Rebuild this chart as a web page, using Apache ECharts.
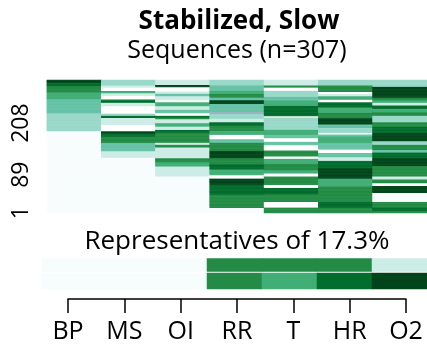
<!DOCTYPE html>
<html>
<head>
<meta charset="utf-8">
<script src="https://cdn.jsdelivr.net/npm/echarts@6/dist/echarts.min.js"></script>
<style>
  html, body { margin: 0; padding: 0; background: #ffffff; }
  #chart { width: 427px; height: 356px; }
</style>
</head>
<body>
<div id="chart"></div>
<script>
// Variables along the sequence axis
const variables = ['BP', 'MS', 'OI', 'RR', 'T', 'HR', 'O2'];
const nSequences = 307;
const yTickSeqs = [1, 89, 208];

// State runs for each variable, from sequence 1 upward: [state, count]
const bpRuns = [[0,189],[3,42],[4,32],[5,16],[6,14],[7,8],[8,6]];
const msRuns = [[0,128],[2,15],[4,19],[6,15],[7,7],[8,5],[9,15],[2,16],[7,5],[3,5],[9,17],[2,8],[7,6],[5,2],[9,8],[2,6],[5,5],[9,8],[2,5],[3,12]];
const oiRuns = [[0,85],[2,23],[5,10],[6,9],[2,25],[6,6],[2,5],[6,23],[7,6],[2,8],[5,8],[2,9],[6,4],[7,4],[9,6],[4,8],[2,8],[5,9],[9,5],[2,9],[4,6],[2,5],[9,10],[8,5],[2,11]];
const rrRuns = [[0,12],[6,31],[7,23],[8,14],[9,8],[5,13],[7,12],[6,14],[8,17],[6,19],[4,8],[9,10],[5,9],[6,12],[7,8],[2,8],[3,11],[10,4],[4,19],[8,9],[4,6],[6,8],[5,8],[4,12],[3,12]];
const tRuns  = [[6,13],[9,13],[6,18],[7,14],[9,7],[6,20],[9,7],[5,7],[6,15],[5,12],[9,5],[6,14],[9,12],[4,8],[9,8],[4,8],[5,12],[3,28],[9,3],[7,24],[5,12],[4,9],[3,14],[9,7],[6,5],[2,12]];
const hrRuns = [[6,13],[7,13],[6,36],[5,18],[8,24],[7,17],[2,8],[4,10],[9,8],[4,15],[5,15],[4,5],[9,3],[3,12],[4,8],[8,14],[6,13],[5,12],[7,12],[9,6],[5,8],[2,5],[9,5],[6,15],[3,12]];
const o2Runs = [[6,5],[7,8],[6,13],[0,21],[8,16],[9,6],[6,9],[2,7],[6,24],[8,18],[7,13],[4,6],[6,12],[3,8],[8,19],[7,14],[6,11],[3,15],[6,8],[5,8],[7,8],[2,6],[5,6],[6,6],[8,25],[3,15]];

// Representative sequences (top row, bottom row)
const repTop    = [0, 0, 0, 6, 6, 6, 2];
const repBottom = [0, 0, 0, 6, 5, 7, 8];
const repShare  = '17.3%';

// BuGn-style palette, plus blank and missing
const stateColors = ['#f7fcfd', '#e5f5f9', '#ccece6', '#99d8c9', '#66c2a4', '#41ae76',
                     '#238b45', '#006d2c', '#00441b', '#ffffff', '#a9abc8'];

const allRuns = [bpRuns, msRuns, oiRuns, rrRuns, tRuns, hrRuns, o2Runs];

const seqCells = [];
allRuns.forEach(function (runs, col) {
  let seq = 0;
  runs.forEach(function (run) {
    for (let k = 0; k < run[1]; k++) {
      seqCells.push([col, seq, run[0]]);
      seq++;
    }
  });
});
const seqLabels = [];
for (let i = 1; i <= nSequences; i++) seqLabels.push(String(i));

const repTopCells = repTop.map(function (s, i) { return [i, 0, s]; });
const repBottomCells = repBottom.map(function (s, i) { return [i, 0, s]; });

const FONT = '"Open Sans"';
const chart = echarts.init(document.getElementById('chart'), null, { renderer: 'canvas' });

chart.setOption({
  animation: false,
  backgroundColor: '#ffffff',
  grid: [
    { left: 47, top: 80, width: 381, height: 133 },
    { left: 42, top: 258.5, width: 394, height: 13 },
    { left: 42, top: 273, width: 394, height: 16 },
    { left: 68, top: 250, width: 338, height: 49 }
  ],
  xAxis: [
    { gridIndex: 0, type: 'category', data: variables, show: false },
    { gridIndex: 1, type: 'category', data: variables, show: false },
    { gridIndex: 2, type: 'category', data: variables, show: false },
    {
      gridIndex: 3, type: 'category', data: variables, boundaryGap: false,
      axisLine: { lineStyle: { color: '#000', width: 1.5 } },
      axisTick: { length: 14, lineStyle: { color: '#000', width: 1.5 } },
      axisLabel: { color: '#000', fontFamily: FONT, fontSize: 25, margin: 20, interval: 0 },
      splitLine: { show: false }
    }
  ],
  yAxis: [
    {
      gridIndex: 0, type: 'category', data: seqLabels,
      axisLine: { show: false }, axisTick: { show: false }, splitLine: { show: false },
      axisLabel: {
        rotate: 90, margin: 14, color: '#000', fontFamily: FONT, fontSize: 23,
        interval: function (index) { return yTickSeqs.indexOf(index + 1) >= 0; }
      }
    },
    { gridIndex: 1, type: 'category', data: ['top'], show: false },
    { gridIndex: 2, type: 'category', data: ['bottom'], show: false },
    { gridIndex: 3, type: 'value', show: false }
  ],
  visualMap: {
    type: 'piecewise', show: false, dimension: 2, seriesIndex: [0, 1, 2],
    pieces: stateColors.map(function (c, i) { return { value: i, color: c }; })
  },
  series: [
    { type: 'heatmap', xAxisIndex: 0, yAxisIndex: 0, data: seqCells, emphasis: { disabled: true } },
    { type: 'heatmap', xAxisIndex: 1, yAxisIndex: 1, data: repTopCells, emphasis: { disabled: true } },
    { type: 'heatmap', xAxisIndex: 2, yAxisIndex: 2, data: repBottomCells, emphasis: { disabled: true } }
  ],
  graphic: [
    { type: 'text', x: 239, y: 22, style: { text: 'Stabilized, Slow', fill: '#000', fontFamily: FONT, fontWeight: 'bold', fontSize: 26, align: 'center', verticalAlign: 'middle' } },
    { type: 'text', x: 237, y: 51, style: { text: 'Sequences (n=' + nSequences + ')', fill: '#000', fontFamily: FONT, fontSize: 25, align: 'center', verticalAlign: 'middle' } },
    { type: 'text', x: 237, y: 242, style: { text: 'Representatives of ' + repShare, fill: '#000', fontFamily: FONT, fontSize: 26, align: 'center', verticalAlign: 'middle' } }
  ]
});
</script>
</body>
</html>
